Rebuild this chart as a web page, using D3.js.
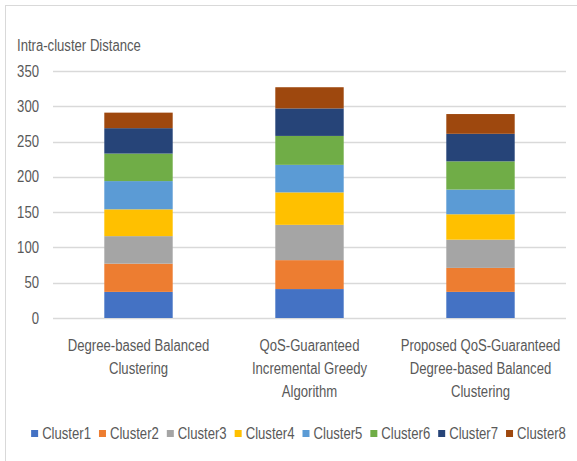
<!DOCTYPE html>
<html>
<head>
<meta charset="utf-8">
<script src="https://cdn.jsdelivr.net/npm/d3@7"></script>
<style>
  html, body { margin: 0; padding: 0; background: #fff; }
  svg text { font-family: "Liberation Sans", Arial, sans-serif; fill: #595959; font-size: 16px; }
</style>
</head>
<body>
<svg id="chart" width="577" height="461"></svg>
<script>
// categories (x axis), one label per line
const categories = [
  ["Degree-based Balanced", "Clustering"],
  ["QoS-Guaranteed", "Incremental Greedy", "Algorithm"],
  ["Proposed QoS-Guaranteed", "Degree-based Balanced", "Clustering"]
];
const seriesNames = ["Cluster1","Cluster2","Cluster3","Cluster4","Cluster5","Cluster6","Cluster7","Cluster8"];
const colors = ["#4472C4","#ED7D31","#A5A5A5","#FFC000","#5B9BD5","#70AD47","#264478","#9E480E"];
// values per series, in category order
const cluster1 = [37, 41, 37];
const cluster2 = [40, 41, 34];
const cluster3 = [39, 50, 40];
const cluster4 = [38, 46, 36];
const cluster5 = [40, 39, 35];
const cluster6 = [39, 41, 40];
const cluster7 = [36, 39, 39];
const cluster8 = [22, 30, 28];
const yTicks = [0, 50, 100, 150, 200, 250, 300, 350];
const yTitle = "Intra-cluster Distance";

const seriesValues = [cluster1, cluster2, cluster3, cluster4, cluster5, cluster6, cluster7, cluster8];

const svg = d3.select('#chart');
const margin = {top:71, left:53, right:11, bottom:143};
const width = 577, height = 461;
const SQUEEZE = 0.82; // no narrow font installed, squeeze Liberation Sans horizontally

// place a text at (px,py) squeezed horizontally
function put(sel, px, py){
  sel.attr('x', 0).attr('y', 0)
    .attr('transform', (d, i) => `translate(${px(d, i)},${py(d, i)}) scale(${SQUEEZE},1)`);
}

// outer chart border (clipped on right/bottom like the original)
svg.append('rect').attr('x', 5.5).attr('y', 5.5).attr('width', 600).attr('height', 500)
  .attr('fill', 'none').attr('stroke', '#d9d9d9').attr('stroke-width', 1);

const rows = categories.map((c, i) => {
  const r = {idx: i};
  seriesNames.forEach((s, j) => r[s] = seriesValues[j][i]);
  return r;
});
const stacked = d3.stack().keys(seriesNames)(rows);

const x = d3.scaleBand().domain(d3.range(categories.length))
  .range([margin.left, width - margin.right]).paddingInner(0.6).paddingOuter(0.3);
const y = d3.scaleLinear().domain([0, 350]).range([height - margin.bottom, margin.top]);

// gridlines
svg.append('g').selectAll('line').data(yTicks).join('line')
  .attr('x1', margin.left).attr('x2', width - margin.right)
  .attr('y1', d => Math.round(y(d)) + 0.5).attr('y2', d => Math.round(y(d)) + 0.5)
  .attr('stroke', '#d9d9d9').attr('stroke-width', 1.3);

// y tick labels
svg.append('g').selectAll('text').data(yTicks).join('text')
  .attr('dy', '0.35em').attr('text-anchor', 'end').text(d => d)
  .call(put, () => 39, d => y(d));

// title
svg.append('text').datum(yTitle).text(d => d).call(put, () => 17, () => 51);

// bars
svg.append('g').selectAll('g').data(stacked).join('g')
  .attr('fill', (d, i) => colors[i])
  .selectAll('rect').data(d => d).join('rect')
  .attr('x', (d, i) => x(i)).attr('width', x.bandwidth())
  .attr('y', d => y(d[1])).attr('height', d => y(d[0]) - y(d[1]));

// category labels, one text per line
const catLines = [];
categories.forEach((lines, i) => lines.forEach((l, k) => catLines.push({i, k, l})));
svg.append('g').selectAll('text').data(catLines).join('text')
  .attr('text-anchor', 'middle').text(d => d.l)
  .call(put, d => x(d.i) + x.bandwidth() / 2, d => 351 + d.k * 23);

// legend
const leg = svg.append('g');
let lx = 0;
seriesNames.forEach((s, i) => {
  const g = leg.append('g').attr('transform', `translate(${lx},0)`);
  g.append('rect').attr('x', 0).attr('y', -3).attr('width', 7).attr('height', 7).attr('fill', colors[i]);
  const t = g.append('text').attr('dy', '0.35em').text(s).call(put, () => 11, () => 0);
  lx += 11 + t.node().getComputedTextLength() * SQUEEZE + 8;
});
const totalW = lx - 8;
leg.attr('transform', `translate(${(41 + 556) / 2 - totalW / 2},433)`);
</script>
</body>
</html>
